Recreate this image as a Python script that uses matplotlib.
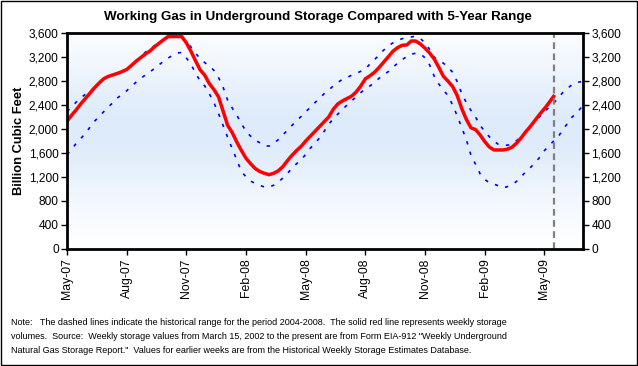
import numpy as np
import matplotlib
matplotlib.use("Agg")
import matplotlib.pyplot as plt
from matplotlib.patches import Rectangle

plt.rcParams['font.family'] = ['Liberation Sans', 'DejaVu Sans']

# weekly working gas in storage (Bcf), starting first week of May 2007
storage = [2130, 2230, 2320, 2420, 2510, 2600, 2690, 2770, 2840, 2880,
           2905, 2930, 2960, 2995, 3060, 3130, 3190, 3250, 3300, 3370,
           3430, 3490, 3545, 3545, 3545, 3545, 3440, 3300, 3140, 2990,
           2900, 2760, 2660, 2540, 2300, 2060, 1940, 1780, 1640, 1510,
           1420, 1340, 1290, 1260, 1237, 1260, 1300, 1370, 1470, 1560,
           1640, 1710, 1800, 1880, 1960, 2040, 2120, 2200, 2330, 2420,
           2470, 2510, 2550, 2620, 2720, 2840, 2890, 2950, 3030, 3120,
           3210, 3300, 3360, 3400, 3405, 3472, 3470, 3420, 3350, 3270,
           3170, 3030, 2880, 2800, 2710, 2560, 2340, 2160, 2020, 1990,
           1900, 1790, 1700, 1650, 1650, 1650, 1665, 1700, 1770, 1860,
           1960, 2050, 2150, 2250, 2340, 2440, 2546]

# 5-year (2004-2008) maximum and minimum for the same weeks
range_max = [2296, 2370, 2450, 2520, 2580, 2630, 2700, 2760, 2820, 2870,
             2900, 2925, 2950, 3000, 3045, 3130, 3200, 3280, 3340, 3390,
             3440, 3485, 3530, 3550, 3545, 3530, 3470, 3370, 3270, 3175,
             3110, 3055, 2980, 2860, 2700, 2480, 2350, 2230, 2090, 1960,
             1880, 1815, 1770, 1720, 1715, 1760, 1820, 1900, 1980, 2060,
             2140, 2210, 2290, 2360, 2440, 2510, 2590, 2650, 2720, 2780,
             2830, 2860, 2900, 2930, 2965, 3000, 3090, 3160, 3240, 3320,
             3390, 3440, 3480, 3510, 3530, 3540, 3550, 3510, 3440, 3330,
             3200, 3140, 3100, 3030, 2950, 2790, 2590, 2440, 2310, 2200,
             2060, 1960, 1870, 1800, 1740, 1730, 1730, 1760, 1810, 1880,
             1970, 2060, 2140, 2210, 2290, 2360, 2430, 2520, 2610, 2680,
             2740, 2780, 2790]

range_min = [1571, 1660, 1760, 1840, 1930, 2030, 2130, 2210, 2290, 2370,
             2440, 2520, 2580, 2640, 2710, 2780, 2840, 2900, 2950, 3010,
             3070, 3130, 3185, 3230, 3270, 3280, 3190, 3080, 2940, 2800,
             2720, 2590, 2440, 2260, 2060, 1860, 1670, 1480, 1290, 1200,
             1130, 1090, 1060, 1030, 1030, 1060, 1110, 1180, 1260, 1340,
             1420, 1480, 1580, 1680, 1760, 1850, 1960, 2080, 2170, 2250,
             2330, 2400, 2470, 2540, 2610, 2670, 2720, 2780, 2850, 2910,
             2960, 3030, 3100, 3160, 3210, 3255, 3265, 3255, 3190, 3070,
             2880, 2750, 2650, 2560, 2400, 2220, 2020, 1820, 1560, 1410,
             1250, 1160, 1100, 1080, 1050, 1015, 1040, 1070, 1130, 1210,
             1290, 1360, 1440, 1530, 1640, 1720, 1800, 1870, 1990, 2090,
             2200, 2260, 2360]

tick_labels = ["May-07", "Aug-07", "Nov-07", "Feb-08", "May-08",
               "Aug-08", "Nov-08", "Feb-09", "May-09"]
y_ticks = [0, 400, 800, 1200, 1600, 2000, 2400, 2800, 3200, 3600]

note = ('Note:   The dashed lines indicate the historical range for the period 2004-2008.  '
        'The solid red line represents weekly storage\n'
        'volumes.  Source:  Weekly storage values from March 15, 2002 to the present are from '
        'Form EIA-912 "Weekly Underground\n'
        'Natural Gas Storage Report."  Values for earlier weeks are from the Historical '
        'Weekly Storage Estimates Database.')

weeks = np.arange(len(storage))
weeks_range = np.arange(len(range_max))

fig = plt.figure(figsize=(6.38, 3.66), dpi=100)
ax = fig.add_axes([67/638, 1-248.7/366, (583-67)/638, (248.7-33.3)/366])

# light blue vertical gradient behind the plot
grad = np.linspace(0, 1, 256)
blue = np.exp(-((grad - 0.55) / 0.33) ** 2)
white = np.array([1.0, 1.0, 1.0])
light = np.array([222, 235, 250]) / 255.0
img = white + (light - white) * blue[:, None]
ax.imshow(img[:, None, :], extent=[0, 112.4, 0, 3600], aspect='auto',
          origin='lower', zorder=0)

dash = (0, (2, 4.5))
ax.plot(weeks_range, range_max, color='#0000FF', lw=1.2, linestyle=dash, zorder=2)
ax.plot(weeks_range, range_min, color='#0000FF', lw=1.2, linestyle=dash, zorder=2)
ax.plot(weeks, storage, color='#FF0000', lw=2.5, zorder=3, solid_joinstyle='round')

# latest week marker
ax.axvline(weeks[-1], color='#808080', lw=1.6, linestyle=(0, (3, 2)), zorder=4)

ax.set_xlim(0, 112.4)
ax.set_ylim(0, 3600)
ax.set_xticks(np.arange(len(tick_labels)) * 13)
ax.set_xticklabels(tick_labels, rotation=90, fontsize=8.8)
ax.set_yticks(y_ticks)
ax.set_yticklabels(["{:,}".format(v) for v in y_ticks], fontsize=8.6)
ax.yaxis.set_ticks_position('both')
ax.tick_params(axis='y', labelright=True, direction='out', length=4, width=1, pad=2)
ax.tick_params(axis='x', direction='out', length=4, width=1, pad=3)
for s in ax.spines.values():
    s.set_linewidth(2)
    s.set_zorder(5)

ax.set_ylabel("Billion Cubic Feet", fontsize=9.3, fontweight='bold', labelpad=3)
fig.text(318/638, 1-17/366, "Working Gas in Underground Storage Compared with 5-Year Range",
         ha='center', va='center', fontsize=9.6, fontweight='bold')
fig.text(11/638, 1-318/366, note, ha='left', va='top', fontsize=6.5, linespacing=1.68)

# outer frame
fig.patches.append(Rectangle((0.0008, 0.0014), 0.998, 0.997, transform=fig.transFigure,
                             fill=False, edgecolor='black', lw=1))

fig.savefig("out.png", dpi=100)
